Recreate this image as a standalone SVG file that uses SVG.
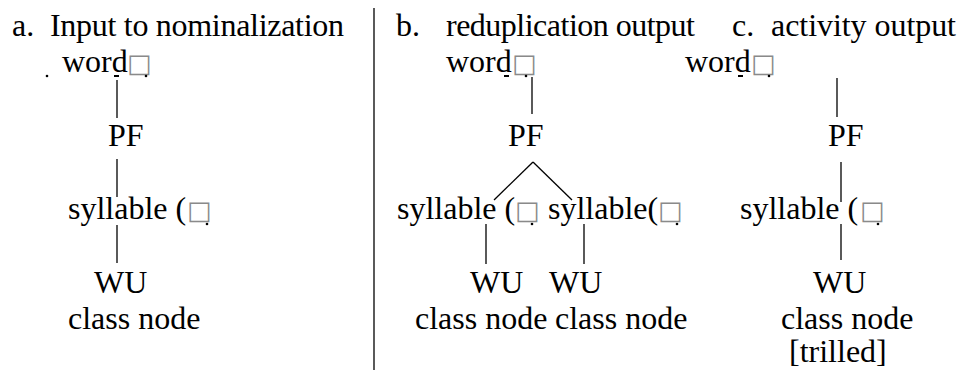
<svg xmlns="http://www.w3.org/2000/svg" width="961" height="370" viewBox="0 0 961 370">
<style>
text{font-family:"Liberation Serif","Times New Roman",serif;font-size:32px;fill:#000}
.box{font-family:"DejaVu Sans",sans-serif;font-size:26px;fill:#8a8a8a}
.ln{stroke:#000;stroke-width:1.3;fill:none}
.dot{fill:#000}
</style>
<rect width="961" height="370" fill="#fff"/>
<line class="ln" x1="374" y1="8" x2="374" y2="370" stroke-width="1.6"/>
<g id="titles">
<text x="12" y="36">a.</text>
<text x="50" y="36" textLength="294">Input to nominalization</text>
<text x="396" y="36">b.</text>
<text x="446" y="36" textLength="249">reduplication output</text>
<text x="732" y="36">c.</text>
<text x="771" y="36" textLength="185">activity output</text>
</g>
<g id="connectors">
<line class="ln" x1="117" y1="80" x2="117" y2="118"/>
<line class="ln" x1="117" y1="159" x2="117" y2="197"/>
<line class="ln" x1="117" y1="225" x2="117" y2="263"/>
<line class="ln" x1="532" y1="77" x2="532" y2="114"/>
<line class="ln" x1="533" y1="162" x2="494" y2="200"/>
<line class="ln" x1="533" y1="162" x2="572" y2="200"/>
<line class="ln" x1="486" y1="224" x2="486" y2="264"/>
<line class="ln" x1="584" y1="224" x2="584" y2="264"/>
<line class="ln" x1="837" y1="78" x2="837" y2="117"/>
<line class="ln" x1="841" y1="162" x2="841" y2="202"/>
<line class="ln" x1="841" y1="224" x2="841" y2="260"/>
</g>
<g id="a-word">
<text x="62" y="72">word<tspan class="box" x="127" y="72">□</tspan></text>
<circle class="dot" cx="47" cy="76" r="1.3"/>
<rect class="dot" x="114" y="75" width="5" height="2"/>
<circle class="dot" cx="146" cy="76" r="1.3"/>
</g>
<g id="a-pf"><text x="108" y="146">PF</text></g>
<g id="a-syllable">
<text x="68" y="219">syllable (<tspan class="box" x="187" y="219">□</tspan></text>
<circle class="dot" cx="207" cy="224" r="1.3"/>
</g>
<g id="a-wu"><text x="94" y="293">WU</text></g>
<g id="a-class"><text x="68" y="329">class node</text></g>

<g id="b-word">
<text x="446" y="72">word<tspan class="box" x="512" y="72">□</tspan></text>
<rect class="dot" x="504" y="75" width="5" height="2"/>
<circle class="dot" cx="526" cy="76" r="1.3"/>
</g>
<g id="b-pf"><text x="508" y="146">PF</text></g>
<g id="b-syllable1">
<text x="397" y="219">syllable (<tspan class="box" x="515" y="219">□</tspan></text>
<circle class="dot" cx="532" cy="224" r="1.3"/>
</g>
<g id="b-syllable2">
<text x="548" y="219">syllable(<tspan class="box" x="658" y="219">□</tspan></text>
<circle class="dot" cx="677" cy="224" r="1.3"/>
</g>
<g id="b-wu1"><text x="470" y="293">WU</text></g>
<g id="b-wu2"><text x="549" y="293">WU</text></g>
<g id="b-class1"><text x="415" y="329">class node</text></g>
<g id="b-class2"><text x="555" y="329">class node</text></g>

<g id="c-word">
<text x="685" y="72">word<tspan class="box" x="751" y="72">□</tspan></text>
<rect class="dot" x="738" y="75" width="5" height="2"/>
<circle class="dot" cx="769" cy="76" r="1.3"/>
</g>
<g id="c-pf"><text x="828" y="146">PF</text></g>
<g id="c-syllable">
<text x="740" y="219">syllable (<tspan class="box" x="860" y="219">□</tspan></text>
<circle class="dot" cx="878" cy="224" r="1.3"/>
</g>
<g id="c-wu"><text x="813" y="293">WU</text></g>
<g id="c-class"><text x="781" y="329">class node</text><text x="789" y="362">[trilled]</text></g>
</svg>
